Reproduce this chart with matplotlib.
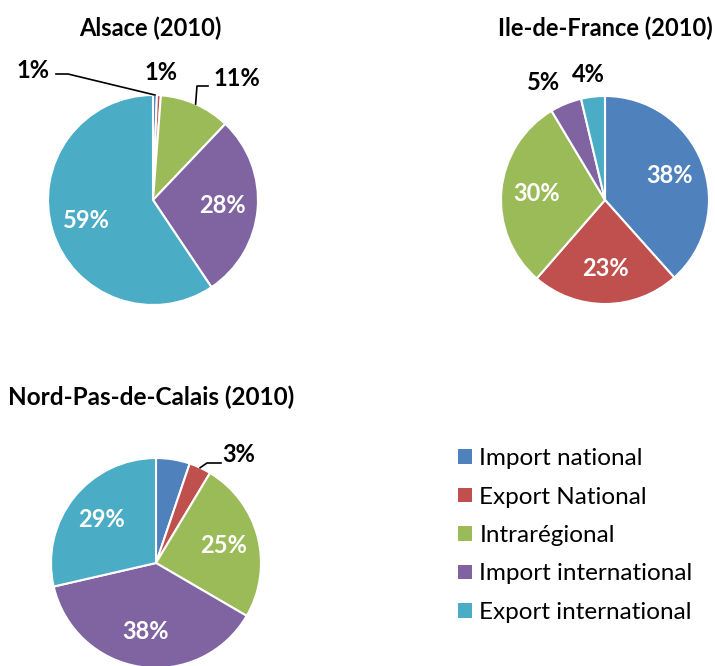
import numpy as np
import matplotlib.pyplot as plt
from matplotlib.patches import Patch

# data (shares in %)
categories = ['Import national', 'Export National', 'Intrarégional',
              'Import international', 'Export international']
colors = ['#4F81BD', '#C0504D', '#9BBB59', '#8064A2', '#4BACC6']

alsace = [0.6, 0.6, 10.9, 28.5, 59.4]
idf = [38.4, 23.0, 30.0, 4.9, 3.7]
nord = [5.2, 3.4, 24.8, 38.0, 28.6]

W, H = 715, 666
plt.rcParams['font.family'] = ['Lato', 'DejaVu Sans']

fig = plt.figure(figsize=(W / 100, H / 100), dpi=100)
ax = fig.add_axes([0, 0, 1, 1])

PCT_SIZE = 17


def draw_pie(values, cx, cy, r, outside, hidden=()):
    """cx, cy in pixels from top-left; outside = {index: (tx, ty, leader)}"""
    wedges, _ = ax.pie(values, colors=colors, startangle=90, counterclock=False,
                       center=(cx, H - cy), radius=r,
                       wedgeprops=dict(edgecolor='white', linewidth=1.5))
    for i, (w, v) in enumerate(zip(wedges, values)):
        if i in hidden:
            continue
        mid = np.deg2rad((w.theta1 + w.theta2) / 2)
        label = f"{v:.0f}%"
        if i in outside:
            tx, ty, leader = outside[i]
            ax.text(tx, H - ty, label, ha='center', va='center',
                    fontsize=PCT_SIZE, fontweight='bold', color='black')
            if leader:
                ex, ey = cx + r * np.cos(mid), (H - cy) + r * np.sin(mid)
                xs = [p[0] for p in leader] + [ex]
                ys = [H - p[1] for p in leader] + [ey]
                ax.plot(xs, ys, color='black', lw=1.2)
        else:
            d = 0.66 * r
            ax.text(cx + d * np.cos(mid), (H - cy) + d * np.sin(mid), label,
                    ha='center', va='center', fontsize=PCT_SIZE,
                    fontweight='bold', color='white')
    return wedges


draw_pie(alsace, 153, 200, 105,
         {0: (33, 70, [(56, 74), (68, 74)]),
          1: (161, 73, None),
          2: (237, 78, [(208, 86), (197, 86)])})
draw_pie(idf, 605, 200, 104,
         {3: (543, 82, None), 4: (588, 75, None)})
draw_pie(nord, 156, 563, 105,
         {1: (239, 455, [(221, 463), (207, 463)])}, hidden=(0,))

ax.text(150, H - 28, 'Alsace (2010)', ha='center', va='center',
        fontsize=17, fontweight='bold')
ax.text(713, H - 28, 'Ile-de-France (2010)', ha='right', va='center',
        fontsize=17, fontweight='bold')
ax.text(8, H - 397, 'Nord-Pas-de-Calais (2010)', ha='left', va='center',
        fontsize=17.5, fontweight='bold')

handles = [Patch(facecolor=c, edgecolor='none') for c in colors]
ax.legend(handles, categories, loc='upper left',
          bbox_to_anchor=(458 / W, 1 - 448 / H), frameon=False,
          fontsize=17.5, handlelength=0.58, handleheight=0.55,
          handletextpad=0.3, labelspacing=0.72, borderaxespad=0,
          borderpad=0)

ax.set_xlim(0, W)
ax.set_ylim(0, H)
ax.set_aspect('equal')
ax.axis('off')

fig.savefig('out.png', dpi=100)
